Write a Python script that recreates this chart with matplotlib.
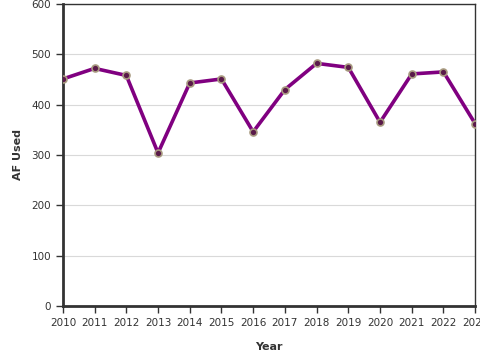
import matplotlib
matplotlib.use("Agg")
import matplotlib.pyplot as plt

years = [2010, 2011, 2012, 2013, 2014, 2015, 2016, 2017, 2018, 2019, 2020, 2021, 2022, 2023]
af_used = [451, 472, 458, 304, 443, 451, 346, 430, 482, 474, 365, 461, 465, 362]

fig = plt.figure(figsize=(4.8, 3.6), dpi=100)
ax = fig.add_axes([0.131, 0.15, 0.859, 0.839])

ax.plot(years, af_used, color="#800080", lw=2.6, marker="o", ms=5,
        mfc="#5a1a4a", mec="#a89a80", mew=1.2, zorder=3)

ax.set_xlim(2010, 2023)
ax.set_ylim(0, 600)
ax.set_xticks(years)
ax.set_yticks(range(0, 601, 100))
ax.yaxis.grid(True, color="#d9d9d9", lw=0.8)
ax.set_axisbelow(True)

for s in ["left", "bottom"]:
    ax.spines[s].set_linewidth(2)
    ax.spines[s].set_color("#333333")
for s in ["top", "right"]:
    ax.spines[s].set_linewidth(1)
    ax.spines[s].set_color("#333333")

ax.tick_params(labelsize=7.5, colors="#333333", length=5, width=1)
ax.set_xlabel("Year", fontsize=8, fontweight="bold", color="#333333", labelpad=10)
ax.set_ylabel("AF Used", fontsize=8, fontweight="bold", color="#333333", labelpad=6)

fig.savefig("out.png", dpi=100)
